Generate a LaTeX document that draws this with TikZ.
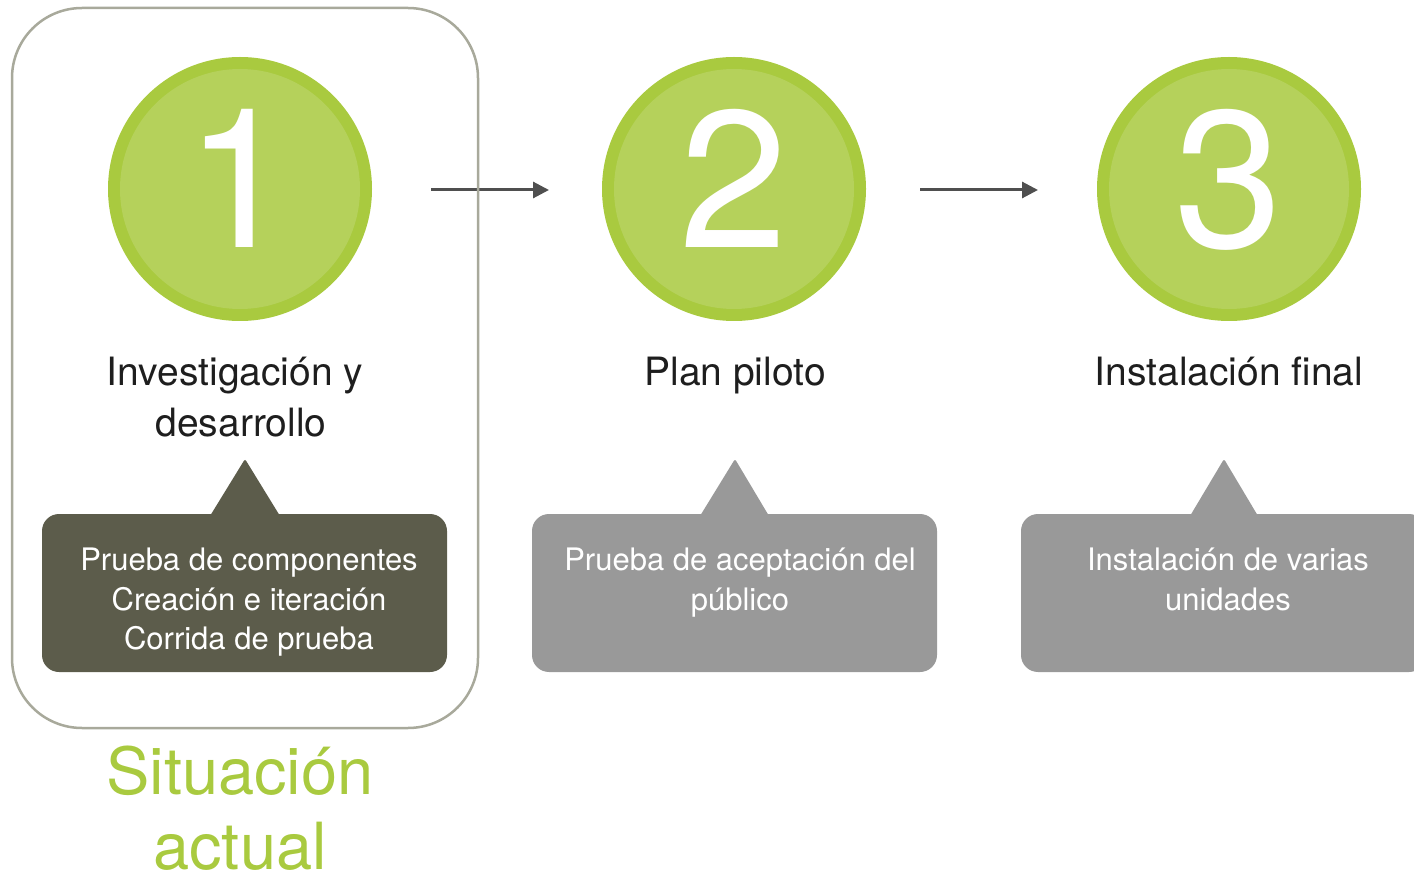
\documentclass[tikz,border=0pt]{standalone}
\usepackage{fontspec}
\setmainfont{TeX Gyre Heros}
\usetikzlibrary{arrows.meta}
\definecolor{ringgreen}{HTML}{A9CA3F}
\definecolor{innergreen}{HTML}{B5D15B}
\definecolor{olivebox}{HTML}{5C5C4B}
\definecolor{greybox}{HTML}{999999}
\definecolor{framecol}{HTML}{A8A99B}
\definecolor{arrowcol}{HTML}{4F4F4F}
\definecolor{titlecol}{HTML}{1E1E1E}
\begin{document}
\begin{tikzpicture}[x=1pt,y=-1pt,
  ring/.style={circle, fill=ringgreen, minimum size=264pt, inner sep=0pt},
  core/.style={circle, fill=innergreen, minimum size=240pt, inner sep=0pt},
  digit/.style={text=white, font=\fontsize{195}{195}\selectfont, inner sep=0pt, anchor=base},
  title/.style={text=titlecol, font=\fontsize{39}{51}\selectfont, align=center, inner sep=0pt, anchor=north},
  callout/.style={rounded corners=17pt, minimum width=405pt, minimum height=158pt, inner sep=0pt},
  tip/.style={rounded corners=2pt},
  calltext/.style={text=white, font=\fontsize{31}{39.5}\selectfont, align=center, inner sep=0pt, anchor=north},
  flow/.style={draw=arrowcol, line width=3pt, -{Triangle[length=16pt,width=16pt]}},
  frame/.style={draw=framecol, line width=2.5pt, rounded corners=70pt, minimum width=466pt, minimum height=720pt, inner sep=0pt}
]
\useasboundingbox (0,0) rectangle (1414,882);
\clip (0,0) rectangle (1414,882);

% circles
\node[ring] (c1) at (240,189) {};
\node[core] (k1) at (c1.center) {};
\node[digit] (d1) at (240,248) {1};
\node[ring] (c2) at (734,189) {};
\node[core] (k2) at (c2.center) {};
\node[digit] (d2) at (734,248) {2};
\node[ring] (c3) at (1229,189) {};
\node[core] (k3) at (c3.center) {};
\node[digit] (d3) at (1229,248) {3};

% arrows
\coordinate (a1s) at (431,190);
\coordinate (a1e) at (549,190);
\coordinate (a2s) at (920,190);
\coordinate (a2e) at (1038,190);
\draw[flow] (a1s) -- (a1e);
\draw[flow] (a2s) -- (a2e);

% frame around step 1
\node[frame] (fr) at (245,368) {};

% titles
\node[title] (h1) at (241,356.5) {Investigación y\hspace*{12pt}\\desarrollo};
\node[title] (h2) at (735,356.5) {Plan piloto};
\node[title] (h3) at (1229,356.5) {Instalación final};

% callouts
\node[callout, fill=olivebox] (b1) at (244.5,593) {};
\fill[olivebox, tip] (245,459) -- (210,516) -- (280,516) -- cycle;
\node[callout, fill=greybox] (b2) at (734.5,593) {};
\fill[greybox, tip] (735,459) -- (700,516) -- (769,516) -- cycle;
\node[callout, fill=greybox] (b3) at (1223.5,593) {};
\fill[greybox, tip] (1224,459) -- (1190,516) -- (1258,516) -- cycle;

\node[calltext] (t1) at (249,548) {Prueba de componentes\\Creación e iteración\\Corrida de prueba};
\node[calltext] (t2) at (740,548) {Prueba de aceptación del\\público};
\node[calltext] (t3) at (1228,548) {Instalación de varias\\unidades};

% current situation label
\node[title, text=ringgreen, font=\fontsize{65}{75}\selectfont] (s) at (240,746) {Situación\\actual};
\end{tikzpicture}
\end{document}
